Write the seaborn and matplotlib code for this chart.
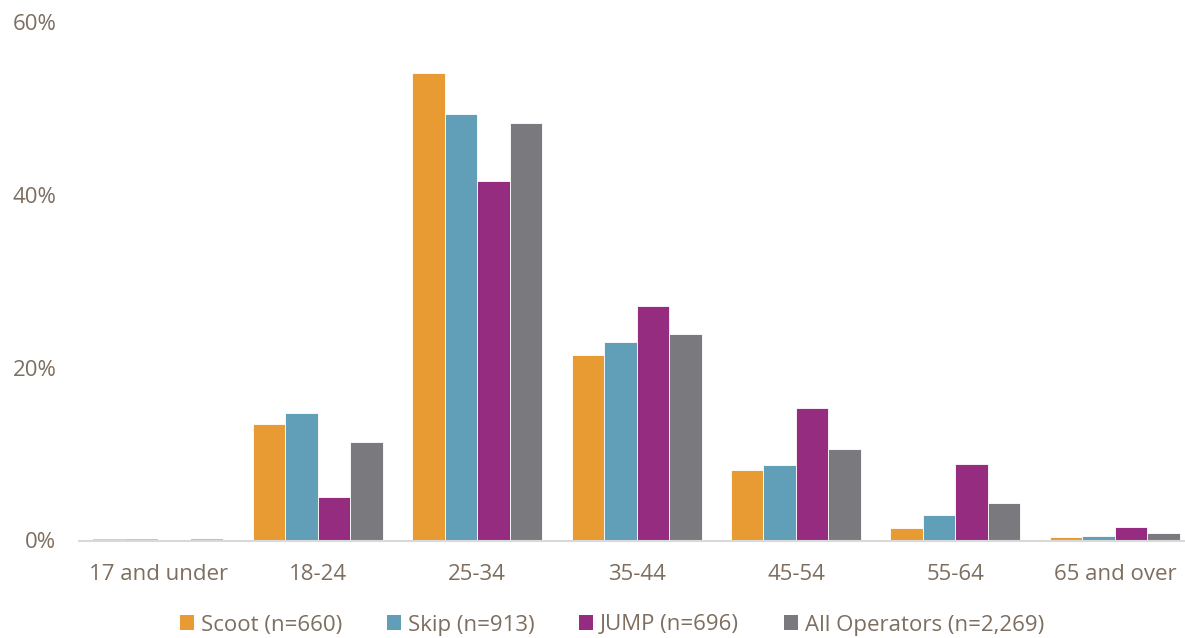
import matplotlib
matplotlib.use("Agg")
import matplotlib.pyplot as plt
import seaborn as sns
import pandas as pd
from matplotlib.ticker import FuncFormatter
from matplotlib.patches import Patch

# Age group shares by operator (percent of respondents)
age_groups = ["17 and under", "18-24", "25-34", "35-44", "45-54", "55-64", "65 and over"]
series_names = ["Scoot (n=660)", "Skip (n=913)", "JUMP (n=696)", "All Operators (n=2,269)"]
scoot = [0.15, 13.5, 54.1, 21.5, 8.2, 1.45, 0.37]
skip = [0.2, 14.7, 49.4, 23.0, 8.7, 2.9, 0.56]
jump = [0.1, 5.0, 41.6, 27.1, 15.3, 8.8, 1.6]
all_ops = [0.2, 11.4, 48.3, 23.9, 10.6, 4.3, 0.9]
colors = ["#E89B33", "#619FB9", "#952C80", "#7A7A7E"]
text_color = "#7D6E5F"

df = pd.DataFrame({
    "age": age_groups * 4,
    "operator": [n for n in series_names for _ in age_groups],
    "share": scoot + skip + jump + all_ops,
})

sns.set_theme(style="white")
plt.rcParams["font.family"] = ["Open Sans", "DejaVu Sans"]

fig = plt.figure(figsize=(11.85, 6.38), dpi=100)
ax = fig.add_axes([78.5 / 1185, 1 - 540.5 / 638, 1 - 78.5 / 1185, (540.5 - 22) / 638])

sns.barplot(data=df, x="age", y="share", hue="operator", order=age_groups,
            hue_order=series_names, palette=colors, width=0.815, gap=0,
            edgecolor="white", linewidth=0.6, saturation=1, legend=False, ax=ax)

# Very small first-group bars are drawn faded
for p in ax.patches:
    if p.get_height() < 0.3:
        p.set_alpha(0.5)
        p.set_linewidth(0)

ax.set_ylim(0, 60)
ax.set_xlim(-0.5, 6.44)
ax.set_yticks([0, 20, 40, 60])
ax.yaxis.set_major_formatter(FuncFormatter(lambda v, _: f"{v:.0f}%"))
ax.set_xlabel("")
ax.set_ylabel("")
for s in ["top", "right", "left"]:
    ax.spines[s].set_visible(False)
ax.spines["bottom"].set_color("#D9D9D9")
ax.spines["bottom"].set_linewidth(1.5)
ax.tick_params(axis="both", length=0, labelsize=16, colors=text_color)
ax.tick_params(axis="y", pad=16)
ax.tick_params(axis="x", pad=17)

handles = [Patch(facecolor=c, edgecolor="none") for c in colors]
leg = fig.legend(handles, series_names, loc="center", bbox_to_anchor=(612 / 1185, 1 - 625 / 638),
                 ncol=4, frameon=False, fontsize=16, handlelength=0.65, handleheight=0.65,
                 handletextpad=0.3, columnspacing=2.0, labelcolor=text_color)

fig.savefig("out.png", dpi=100)
